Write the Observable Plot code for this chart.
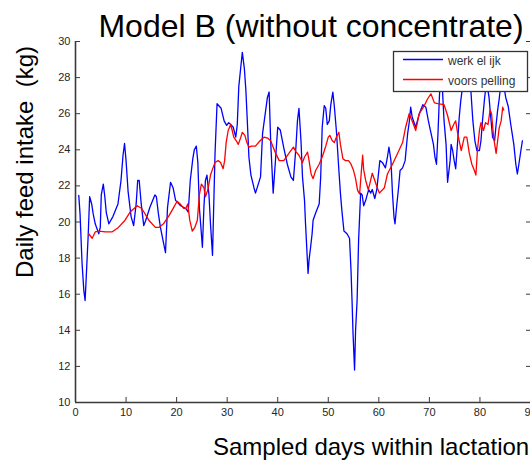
<!DOCTYPE html>
<html>
<head>
<meta charset="utf-8">
<script src="https://cdn.jsdelivr.net/npm/d3@7"></script>
<script src="https://cdn.jsdelivr.net/npm/@observablehq/plot@0.6"></script>
<style>
  html, body { margin: 0; padding: 0; background: #fff; }
  #chart { position: relative; width: 530px; height: 460px; overflow: hidden; }
  svg { font-family: "Liberation Sans", Arial, sans-serif; }
</style>
</head>
<body>
<div id="chart"></div>
<script>
const titleText = "Model B (without concentrate)";
const xLabelText = "Sampled days within lactation";
const yLabelText = "Daily feed intake  (kg)";
const seriesNames = ["werk el ijk", "voors pelling"];
const seriesColors = ["#0000ff", "#ff0000"];

const xTicks = [0, 10, 20, 30, 40, 50, 60, 70, 80, 90];
const yTicks = [10, 12, 14, 16, 18, 20, 22, 24, 26, 28, 30];

// werkelijk (actual intake)
const actualDays = [0.65,0.9,1.3,1.65,1.9,2.1,2.5,2.8,3.2,3.5,3.9,4.6,4.9,5.1,5.5,5.8,6.1,6.6,7.4,8.4,9.0,9.4,9.7,10.0,10.4,11.0,11.5,12.0,12.3,12.6,13.0,13.5,13.9,14.7,15.7,16.0,16.4,16.8,17.3,17.8,18.2,18.8,19.3,19.8,20.8,21.8,22.3,22.7,23.2,23.5,23.9,24.2,24.5,24.9,25.1,25.4,25.7,26.0,26.4,26.7,27.1,27.3,27.6,28.0,28.8,29.4,29.9,30.3,30.7,31.2,31.7,32.0,32.3,32.7,33.0,33.4,33.7,34.0,34.3,34.7,35.3,35.6,36.6,37.0,37.96,38.3,38.6,39.1,39.6,40.0,40.5,41.2,41.9,42.6,43.1,43.6,43.9,44.2,44.6,44.9,45.3,45.5,45.8,46.0,46.2,46.5,46.8,47.0,47.5,48.2,48.5,48.8,49.2,49.5,49.8,50.2,50.5,50.9,51.2,51.6,52.1,52.4,52.7,53.1,53.7,54.2,54.5,54.7,54.9,55.2,55.4,55.7,56.0,56.4,56.7,57.0,57.4,57.7,58.0,58.4,58.7,59.2,59.6,59.9,60.2,60.7,61.3,61.7,62.0,62.4,62.7,63.0,63.2,63.5,63.9,64.2,64.7,65.2,65.7,66.0,66.3,66.6,67.3,68.0,68.7,69.3,69.8,70.2,70.8,71.1,71.4,71.7,71.95,72.2,72.5,72.9,73.3,73.5,73.6,74.1,74.3,74.6,74.9,75.2,75.6,75.9,76.2,76.6,76.9,77.6,78.2,78.6,79.0,79.4,79.9,80.2,80.5,80.9,81.3,81.8,82.2,82.5,82.9,83.2,83.5,83.8,84.2,84.8,85.1,85.6,86.1,86.7,87.1,87.4,87.7,88.1,88.4];
const actualIntake = [21.47,20.45,17.7,16.2,15.65,16.8,19.2,21.4,21.0,20.45,19.9,19.35,19.7,21.5,22.1,21.4,20.5,19.9,20.3,21.0,22.3,23.7,24.35,23.4,21.7,20.3,19.8,21.0,22.3,22.3,21.0,19.8,20.1,20.8,21.5,21.4,20.45,19.7,19.0,18.3,20.8,22.2,21.9,21.2,20.9,20.75,20.55,22.3,23.5,24.0,24.2,23.3,20.8,19.35,18.6,20.8,22.3,22.6,21.5,19.9,18.15,20.45,23.8,26.55,26.3,25.6,25.35,25.5,25.4,25.25,24.7,25.4,27.5,28.6,29.4,28.5,27.3,25.5,23.6,22.6,21.9,21.6,22.5,24.9,26.9,27.2,24.5,21.6,23.6,25.25,25.1,24.1,23.2,22.5,22.3,24.15,25.6,26.3,24.5,22.5,21.2,19.9,18.25,17.15,17.9,18.6,19.35,20.1,20.5,21.0,22.5,25.25,26.45,26.3,25.4,25.6,26.5,27.2,26.4,25.07,22.85,21.6,20.6,19.5,19.35,19.1,17.3,15.65,13.8,11.8,14.0,15.65,19.0,21.6,21.5,20.9,21.2,21.5,21.8,21.6,21.8,21.3,21.8,22.6,23.4,23.3,23.0,23.6,24.15,23.4,21.56,20.27,19.9,20.8,21.9,22.85,23.0,23.4,24.9,25.5,26.36,25.8,25.25,26.0,26.5,26.36,25.6,25.07,24.3,23.6,23.2,24.9,26.7,28.3,27.8,25.6,24.3,22.85,22.2,23.4,24.3,23.96,23.4,22.95,24.5,25.8,26.7,27.6,28.2,28.5,27.3,25.6,24.5,23.96,23.96,24.5,25.6,26.8,27.8,26.9,25.6,24.7,24.5,25.4,26.2,26.8,27.8,27.4,26.9,26.4,25.4,24.3,23.2,22.66,23.2,23.96,24.5];

// voorspelling (prediction)
const predDays = [2.6,3.3,3.9,4.6,5.9,7.2,8.5,9.8,10.8,12.2,13.1,14.5,15.8,16.5,17.4,18.5,19.4,20.1,20.7,21.4,21.8,22.2,22.6,23.1,23.6,24.1,24.5,24.9,25.4,25.7,26.2,26.7,27.2,27.6,28.2,28.7,29.2,29.5,29.8,30.2,30.7,31.0,31.3,31.8,32.2,32.7,33.0,33.5,33.9,34.3,34.8,35.6,36.5,37.3,38.0,38.6,39.6,40.3,41.2,42.2,42.6,43.1,43.6,44.2,44.9,45.3,45.9,46.2,46.6,47.0,47.5,48.2,48.8,49.5,50.0,50.3,50.8,51.2,51.6,52.1,52.4,52.9,53.4,54.0,54.5,55.0,55.4,55.8,56.2,56.5,56.8,57.0,57.4,57.9,58.2,58.7,59.2,59.7,60.1,61.1,61.7,62.7,63.7,64.7,65.3,66.0,66.6,67.3,68.0,69.0,69.6,70.3,71.0,71.9,72.9,73.6,74.3,74.8,75.2,75.6,75.9,76.3,76.9,77.4,77.9,78.4,78.9,79.2,79.5,79.9,80.2,80.7,81.1,81.6,82.0,82.3,82.7,83.2,83.5,83.8,84.2,84.5,84.7];
const predIntake = [19.35,19.1,19.45,19.5,19.45,19.45,19.7,20.1,20.55,20.9,20.75,20.1,19.7,19.7,19.9,20.35,20.8,21.15,21.0,20.75,20.75,21.0,20.1,19.5,19.7,20.1,21.5,22.1,21.9,21.4,21.8,22.6,23.0,23.3,23.4,23.3,22.95,23.4,24.4,25.07,25.4,25.07,24.7,24.5,24.3,24.7,24.97,24.8,24.4,24.15,24.2,24.2,24.5,24.7,24.65,24.5,23.8,23.4,23.4,23.8,23.96,24.15,23.9,23.7,23.3,23.6,23.87,23.4,22.66,22.4,22.85,23.2,23.6,24.2,24.7,24.8,24.5,24.4,24.7,24.97,24.3,23.5,23.4,23.4,23.2,22.85,22.4,21.75,21.56,22.66,23.7,22.9,22.3,21.8,22.1,22.7,22.3,21.9,21.6,21.9,22.66,23.2,23.8,24.4,25.25,26.0,25.6,25.07,26.0,26.45,26.8,27.1,26.6,26.55,26.5,25.9,25.07,25.4,25.6,24.9,24.5,23.96,24.7,24.7,23.8,23.2,22.85,22.6,23.96,25.07,25.5,25.07,25.5,25.4,26.2,26.0,24.7,23.8,24.5,25.2,25.6,26.36,26.2];

const actual = actualDays.map((d, i) => ({day: d, value: actualIntake[i]}));
const pred = predDays.map((d, i) => ({day: d, value: predIntake[i]}));

const axisColor = "#3a3a3a";
const labelColor = "#262626";

const chart = Plot.plot({
  width: 530,
  height: 460,
  marginLeft: 75,
  marginRight: 0,
  marginTop: 41,
  marginBottom: 58,
  style: {fontFamily: "'Liberation Sans', Arial, sans-serif", fontSize: "11px", color: labelColor, background: "white"},
  x: {domain: [0, 90]},
  y: {domain: [10, 30]},
  marks: [
    Plot.line(actual, {x: "day", y: "value", stroke: seriesColors[0], strokeWidth: 1.3}),
    Plot.line(pred, {x: "day", y: "value", stroke: seriesColors[1], strokeWidth: 1.3}),
    Plot.ruleX([0], {stroke: axisColor, strokeWidth: 1.6}),
    Plot.ruleY([10], {stroke: axisColor, strokeWidth: 1.6}),
    Plot.axisX({ticks: xTicks, tickSize: 5, dy: -5, tickPadding: 6, label: null, stroke: axisColor, fill: labelColor, fontSize: 11}),
    Plot.axisY({ticks: yTicks, tickSize: 5, dx: 5, tickPadding: 5, label: null, stroke: axisColor, fill: labelColor, fontSize: 11}),
    Plot.axisY({ticks: yTicks, anchor: "right", tickSize: 5, dx: -5, tickFormat: () => "", label: null, stroke: axisColor})
  ]
});

document.getElementById("chart").appendChild(chart);

const svg = d3.select(chart);
const font = "'Liberation Sans', Arial, sans-serif";

svg.append("text")
  .attr("x", 311).attr("y", 37)
  .attr("text-anchor", "middle")
  .attr("font-family", font).attr("font-size", 32)
  .attr("fill", "#000")
  .text(titleText);

svg.append("text")
  .attr("transform", "translate(33,162) rotate(-90)")
  .attr("text-anchor", "middle")
  .attr("font-family", font).attr("font-size", 24)
  .attr("fill", "#000")
  .text(yLabelText);

svg.append("text")
  .attr("x", 213).attr("y", 455)
  .attr("text-anchor", "start")
  .attr("font-family", font).attr("font-size", 24)
  .attr("fill", "#000")
  .text(xLabelText);

// legend
const lg = svg.append("g");
lg.append("rect")
  .attr("x", 393.5).attr("y", 51.5).attr("width", 134).attr("height", 40)
  .attr("fill", "#fff").attr("stroke", "#333").attr("stroke-width", 1.3);
seriesNames.forEach((name, i) => {
  const y = 59.5 + i * 20;
  lg.append("line")
    .attr("x1", 403).attr("x2", 443).attr("y1", y).attr("y2", y)
    .attr("stroke", seriesColors[i]).attr("stroke-width", 1.3);
  lg.append("text")
    .attr("x", 448).attr("y", y + 5)
    .attr("text-anchor", "start")
    .attr("font-family", font).attr("font-size", 12)
    .attr("fill", "#333")
    .text(name);
});
</script>
</body>
</html>
